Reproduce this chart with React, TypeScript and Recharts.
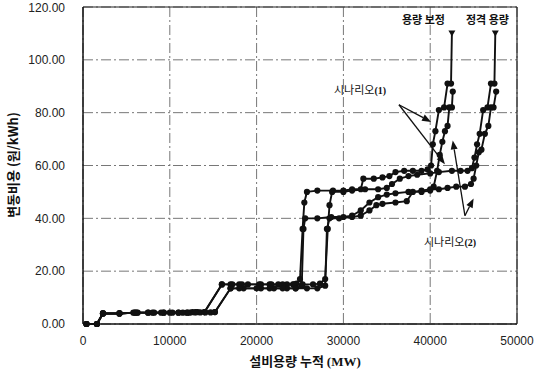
import React from "react";
import {
  LineChart,
  Line,
  XAxis,
  YAxis,
  CartesianGrid,
  ReferenceLine,
} from "recharts";

// 설비용량 누적 (MW) / 변동비용 (원/kWh)
const xTicks = [0, 10000, 20000, 30000, 40000, 50000];
const yTicks = [0, 20, 40, 60, 80, 100, 120];

// 용량 보정 - 시나리오(1)
const capAdjS1: [number, number][] = [
  [400, 0], [1600, 0], [2300, 4], [4200, 4], [5800, 4.3], [6300, 4.3], [7500, 4.3],
  [8200, 4.3], [9300, 4.3], [10300, 4.3], [11000, 4.3], [12000, 4.3], [12600, 4.5],
  [13200, 4.5], [14000, 4.5], [16000, 15], [17000, 15], [18000, 15], [19000, 15],
  [20500, 15], [21500, 15], [22500, 15], [23500, 15], [24200, 15], [24600, 15.3],
  [25000, 17], [25300, 36], [25500, 46], [25800, 50], [27000, 50.5], [28800, 50.5],
  [30000, 50.5], [31000, 51], [32000, 51], [32300, 55], [33500, 55], [34500, 55.5],
  [35300, 56], [36000, 57.5], [37000, 58], [38000, 58], [39000, 58], [39700, 58.5],
  [40100, 60], [40300, 68], [40600, 73], [41000, 81], [41600, 82], [42000, 91],
  [42400, 91], [42500, 110],
];

// 용량 보정 - 시나리오(2)
const capAdjS2: [number, number][] = [
  [400, 0], [1600, 0], [2300, 4], [4200, 4], [6000, 4.3], [7500, 4.3], [9300, 4.3],
  [11000, 4.3], [12300, 4.3], [13500, 4.4], [14700, 4.4], [15200, 4.5], [17000, 13.5],
  [18500, 13.5], [20500, 13.5], [22000, 13.5], [23500, 13.5], [24500, 13.5],
  [25200, 14.5], [25400, 36], [25600, 40], [27000, 40], [28600, 40.5], [30000, 40.5],
  [31000, 41], [32000, 43], [33000, 46], [34000, 48], [35000, 49], [36000, 49.5],
  [37500, 50], [39000, 50], [40000, 50.5], [40400, 52], [40800, 58], [41100, 64],
  [41400, 69], [41700, 73], [42000, 75], [42200, 82], [42500, 82], [42600, 88],
];

// 정격 용량 - 시나리오(1)
const ratedS1: [number, number][] = [
  [400, 0], [1600, 0], [2300, 4], [4200, 4], [6200, 4.3], [8000, 4.3], [10000, 4.3],
  [12000, 4.3], [13000, 4.5], [14000, 4.5], [16000, 15], [17200, 15], [18300, 15],
  [20300, 15], [21700, 15], [23000, 15], [24300, 15], [25300, 15], [26500, 15],
  [27300, 15.3], [27900, 17], [28200, 36], [28400, 45], [28700, 50], [30000, 50],
  [31000, 50.5], [32500, 51], [34000, 51], [35000, 51.5], [35600, 53], [36500, 55],
  [37500, 56], [38500, 56.5], [40000, 57], [41000, 57.5], [42500, 58], [43500, 58],
  [44300, 58], [44800, 59], [45100, 63], [45400, 68], [45700, 72], [46100, 81],
  [46600, 82], [47000, 91], [47400, 91], [47500, 110],
];

// 정격 용량 - 시나리오(2)
const ratedS2: [number, number][] = [
  [400, 0], [1600, 0], [2300, 4], [4200, 4], [6000, 4.3], [9000, 4.3], [11500, 4.3],
  [12900, 4.4], [14100, 4.4], [15200, 4.5], [17000, 13.5], [18000, 13.5],
  [20000, 13.5], [21500, 13.5], [23000, 13.5], [24500, 13.5], [25800, 13.5],
  [27000, 13.5], [27900, 14.5], [28100, 36], [28400, 40], [29500, 40], [31000, 40.5],
  [32000, 41], [33000, 43], [33800, 45], [34500, 45.5], [36000, 46], [37300, 46.5],
  [38000, 50], [39000, 50.5], [40000, 51], [41000, 51], [42000, 51.5], [43000, 52],
  [44000, 52], [44700, 53], [45000, 55], [45300, 60], [45600, 65], [45900, 66],
  [46300, 72], [46700, 75], [47000, 82], [47300, 82], [47600, 88],
];

const series = [capAdjS1, capAdjS2, ratedS1, ratedS2];

// annotation arrows, in data units: [fromX, fromY, toX, toY]
const arrows: [number, number, number, number][] = [
  [36400, 83, 40100, 76.5],
  [36400, 83, 41700, 60.5],
  [44000, 41, 42600, 69.5],
  [44000, 41, 45000, 47.5],
];

const toPoints = (s: [number, number][]) => s.map(([x, y]) => ({ x, y }));

const Marker = (props: any) => {
  const { cx, cy, payload, index } = props;
  if (cx == null || cy == null) return <g key={index} />;
  if (payload.y >= 110) {
    return (
      <polygon
        key={index}
        points={`${cx - 3.5},${cy - 3} ${cx + 3.5},${cy - 3} ${cx},${cy + 3}`}
        fill="#111"
      />
    );
  }
  return <circle key={index} cx={cx} cy={cy} r={3.1} fill="#111" />;
};

const ArrowShape = (props: any) => {
  const { x1, y1, x2, y2 } = props;
  if ([x1, y1, x2, y2].some((v) => v == null || isNaN(v))) return <g />;
  const a = Math.atan2(y2 - y1, x2 - x1);
  const len = 9;
  const w = 3.5;
  const bx = x2 - len * Math.cos(a);
  const by = y2 - len * Math.sin(a);
  const px = -Math.sin(a) * w;
  const py = Math.cos(a) * w;
  return (
    <g>
      <line x1={x1} y1={y1} x2={bx} y2={by} stroke="#111" strokeWidth={1.3} />
      <polygon
        points={`${x2},${y2} ${bx + px},${by + py} ${bx - px},${by - py}`}
        fill="#111"
      />
    </g>
  );
};

const kr = "'Noto Sans CJK KR', 'Noto Sans', sans-serif";

export default function App() {
  return (
    <div style={{ position: "absolute", left: 0, top: 0, width: 535, height: 372, background: "#fff" }}>
      <LineChart
        width={535}
        height={372}
        margin={{ top: 7, right: 18, bottom: 18, left: 0 }}
      >
        <CartesianGrid stroke="#777" strokeDasharray="10 3 2 3" />
        <XAxis
          type="number"
          dataKey="x"
          domain={[0, 50000]}
          ticks={xTicks}
          tickLine={false}
          tickMargin={6}
          axisLine={{ stroke: "#111", strokeWidth: 1.5 }}
          tick={{ fill: "#222", fontSize: 12, fontFamily: "'Liberation Sans', sans-serif" }}
          allowDuplicatedCategory={false}
        />
        <YAxis
          type="number"
          dataKey="y"
          domain={[0, 120]}
          ticks={yTicks}
          width={83}
          tickLine={false}
          tickMargin={12}
          tickFormatter={(v: number) => v.toFixed(2)}
          axisLine={{ stroke: "#111", strokeWidth: 1.5 }}
          tick={{ fill: "#222", fontSize: 12, fontFamily: "'Liberation Sans', sans-serif" }}
        />
        <ReferenceLine y={120} stroke="#222" strokeWidth={1.2} />
        <ReferenceLine x={50000} stroke="#222" strokeWidth={1.2} />
        {series.map((s, i) => (
          <Line
            key={i}
            data={toPoints(s)}
            dataKey="y"
            type="linear"
            stroke="#111"
            strokeWidth={1.9}
            dot={Marker}
            activeDot={false}
            isAnimationActive={false}
          />
        ))}
        {arrows.map(([x1, y1, x2, y2], i) => (
          <ReferenceLine
            key={"a" + i}
            segment={[
              { x: x1, y: y1 },
              { x: x2, y: y2 },
            ]}
            ifOverflow="visible"
            shape={ArrowShape}
          />
        ))}
      </LineChart>

      <div style={{ position: "absolute", left: 402, top: 11, fontFamily: kr, fontWeight: 700, fontSize: 11, color: "#111" }}>
        용량 보정
      </div>
      <div style={{ position: "absolute", left: 466, top: 11, fontFamily: kr, fontWeight: 700, fontSize: 11, color: "#111" }}>
        정격 용량
      </div>
      <div style={{ position: "absolute", left: 334, top: 81, fontFamily: kr, fontSize: 11, color: "#111" }}>
        시나리오<span style={{ fontFamily: "'Liberation Serif', serif", fontWeight: 700, fontSize: 10 }}>(1)</span>
      </div>
      <div style={{ position: "absolute", left: 424, top: 233, fontFamily: kr, fontSize: 11, color: "#111" }}>
        시나리오<span style={{ fontFamily: "'Liberation Serif', serif", fontWeight: 700, fontSize: 10 }}>(2)</span>
      </div>
      <div style={{ position: "absolute", left: 240, top: 351, width: 130, textAlign: "center", fontFamily: kr, fontWeight: 700, fontSize: 13, color: "#111", whiteSpace: "nowrap" }}>
        설비용량 누적 <span style={{ fontFamily: "'Liberation Serif', serif" }}>(MW)</span>
      </div>
      <div
        style={{
          position: "absolute",
          left: 13 - 70,
          top: 165 - 10,
          width: 140,
          height: 20,
          lineHeight: "20px",
          textAlign: "center",
          transform: "rotate(-90deg)",
          fontFamily: kr,
          fontWeight: 700,
          fontSize: 13,
          color: "#111",
          whiteSpace: "nowrap",
        }}
      >
        변동비용 (원/kWh)
      </div>
    </div>
  );
}
